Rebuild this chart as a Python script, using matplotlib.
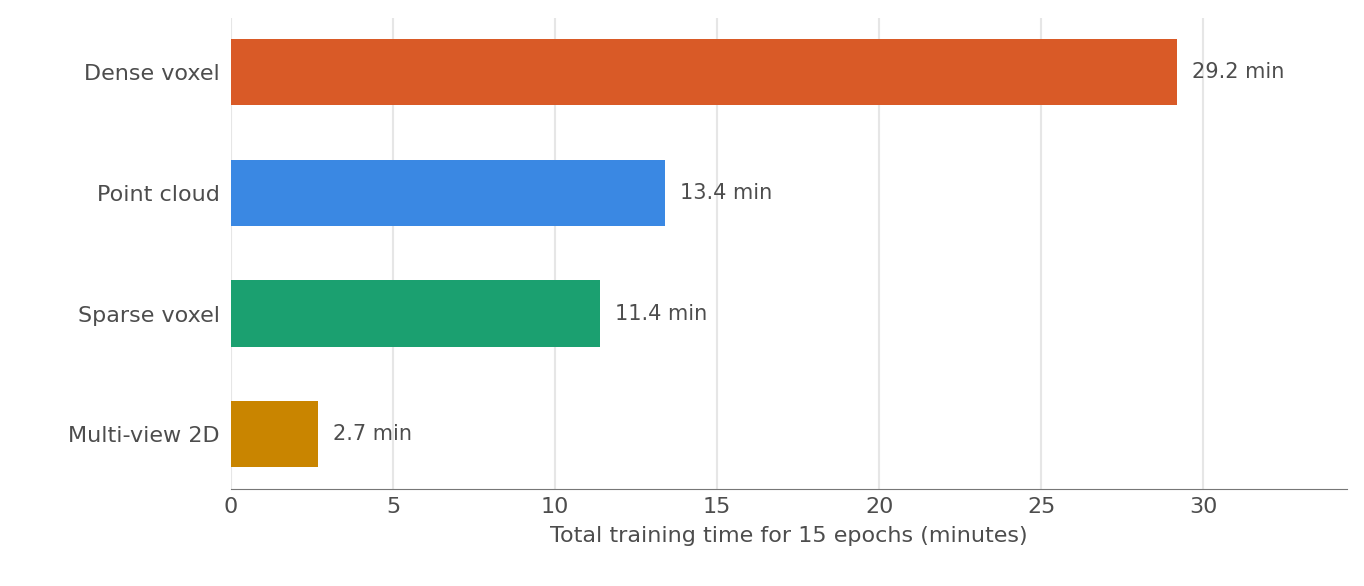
import matplotlib.pyplot as plt

methods = ["Dense voxel", "Point cloud", "Sparse voxel", "Multi-view 2D"]
minutes = [29.2, 13.4, 11.4, 2.7]
colors = ["#D95A27", "#3A88E3", "#1BA070", "#C98500"]
xticks = [0, 5, 10, 15, 20, 25, 30]

txt = "#4d4d4d"
fig = plt.figure(figsize=(13.64, 5.86), dpi=100)
ax = fig.add_axes([231 / 1364, 1 - 489 / 586, (1347 - 231) / 1364, (489 - 18) / 586])

ypos = list(range(len(methods)))
ax.barh(ypos, minutes, height=0.55, color=colors, zorder=3)
for y, v in zip(ypos, minutes):
    ax.text(v + 0.45, y, f"{v} min", va="center", ha="left", fontsize=15, color=txt)

ax.set_yticks(ypos)
ax.set_yticklabels(methods, fontsize=16, color=txt)
ax.set_ylim(3.455, -0.45)
ax.set_xlim(0, 34.44)
ax.set_xticks(xticks)
ax.set_xticklabels([str(t) for t in xticks], fontsize=16, color=txt)
ax.tick_params(axis="y", length=0, pad=8)
ax.tick_params(axis="x", length=0, pad=6)
ax.grid(axis="x", color="#e6e6e6", linewidth=1.5, zorder=0)
for s in ["top", "right", "left"]:
    ax.spines[s].set_visible(False)
ax.spines["bottom"].set_color("#777777")
ax.set_xlabel("Total training time for 15 epochs (minutes)", fontsize=16, color=txt, labelpad=6)

fig.savefig("out.png", dpi=100)
